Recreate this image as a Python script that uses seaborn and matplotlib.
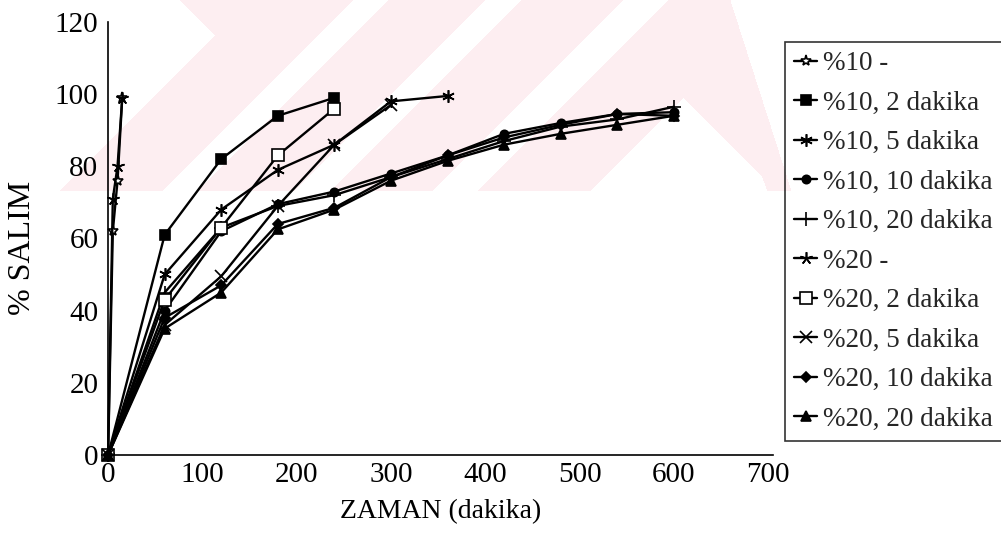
import matplotlib
matplotlib.use("Agg")
import matplotlib.pyplot as plt
import seaborn as sns
import pandas as pd
import numpy as np

# ---- data ----
series_names = ["%10 -", "%10, 2 dakika", "%10, 5 dakika", "%10, 10 dakika", "%10, 20 dakika",
                "%20 -", "%20, 2 dakika", "%20, 5 dakika", "%20, 10 dakika", "%20, 20 dakika"]

t_fast = [0, 5, 10, 15]
t_240 = [0, 60, 120, 180, 240]
t_300 = [0, 60, 120, 180, 240, 300]
t_360 = [0, 60, 120, 180, 240, 300, 360]
t_600 = [0, 60, 120, 180, 240, 300, 360, 420, 480, 540, 600]

v_10_0 = [0, 62, 76, 99]
v_10_2 = [0, 61, 82, 94, 99]
v_10_5 = [0, 50, 68, 79, 86, 98, 99.5]
v_10_10 = [0, 40, 62, 69.5, 73, 78, 83, 89, 92, 94.5, 95]
v_10_20 = [0, 45, 63, 69, 72, 77, 82, 87, 91, 93, 96.5]
v_20_0 = [0, 71, 80, 99]
v_20_2 = [0, 43, 63, 83, 96]
v_20_5 = [0, 36, 49.5, 69, 86, 97]
v_20_10 = [0, 38, 47, 64, 68.5, 77, 83, 88, 91.5, 94.5, 94]
v_20_20 = [0, 35, 45, 62.5, 68, 76, 81.5, 86, 89, 91.5, 94]

times = [t_fast, t_240, t_360, t_600, t_600, t_fast, t_240, t_300, t_600, t_600]
values = [v_10_0, v_10_2, v_10_5, v_10_10, v_10_20, v_20_0, v_20_2, v_20_5, v_20_10, v_20_20]

x_ticks = [0, 100, 200, 300, 400, 500, 600, 700]
y_ticks = [0, 20, 40, 60, 80, 100, 120]

# ---- style ----
sns.set_style("white")
plt.rcParams['font.family'] = ['Liberation Serif', 'DejaVu Serif']

markers = ["*", "s", (6, 2, 0), "o", "+", (5, 2, 0), "s", "x", "D", "^"]
faces = ["white", "black", "black", "black", "black", "black", "white", "black", "black", "black"]
msizes = [8, 7, 9, 6, 10, 9, 8, 8, 5, 7]

W, H = 1001, 537
fig = plt.figure(figsize=(W / 100, H / 100), dpi=100)

# faint scanned watermark (decorative background band)
Yg, Xg = np.mgrid[0:H, 0:W]
u = Xg + Yg
w = Xg - Yg
pink = (Yg <= 190) & (Xg <= 730 + 0.32 * Yg)
pink &= ~((u < 250) & (w < 180))
for a, b in [(353, 387), (485, 520), (623, 667)]:
    pink &= ~((u >= a) & (u <= b))
pink &= ~((u > 780) & (w < 586) & (Xg < 700 + 0.35 * Yg))
img = np.ones((H, W, 4))
img[..., 3] = 0.0
img[pink] = [253 / 255, 238 / 255, 241 / 255, 1.0]
fig.figimage(img, 0, 0, origin="upper", zorder=0)

ax = fig.add_axes([0.108, 0.153, 0.664, 0.806])
ax.set_facecolor("none")
ax.set_zorder(5)

for name, t, v, m, fc, ms in zip(series_names, times, values, markers, faces, msizes):
    df = pd.DataFrame({"ZAMAN": t, "SALIM": v})
    sns.lineplot(data=df, x="ZAMAN", y="SALIM", ax=ax, color="black", sort=False,
                 errorbar=None, marker=m, markersize=ms, markerfacecolor=fc,
                 markeredgecolor="black", markeredgewidth=1.2, linewidth=1.7,
                 label=name, clip_on=False)

ax.set_xlim(0, 705)
ax.set_ylim(0, 120)
ax.set_xticks(x_ticks)
ax.set_yticks(y_ticks)
ax.tick_params(axis="y", labelsize=21, length=0, pad=7, colors="black")
ax.tick_params(axis="x", labelsize=21, length=0, pad=5, colors="black")
for s in ["top", "right"]:
    ax.spines[s].set_visible(False)
for s in ["left", "bottom"]:
    ax.spines[s].set_color("black")
    ax.spines[s].set_linewidth(1.2)

ax.set_xlabel("ZAMAN (dakika)", fontsize=20, color="black", labelpad=8)
ax.set_ylabel("% SALIM", fontsize=23, color="black")
ax.yaxis.set_label_coords(-0.107, 0.478)

handles, labels = ax.get_legend_handles_labels()
leg = fig.legend(handles, labels, loc="upper left", bbox_to_anchor=(0.784, 0.922),
                 frameon=True, fancybox=False, edgecolor="black", facecolor="none",
                 fontsize=19.5, handlelength=0.85, handletextpad=0.2, labelspacing=0.535,
                 borderpad=0.35, borderaxespad=0)
leg.get_frame().set_linewidth(1.2)
leg.set_zorder(10)
if ax.get_legend():
    ax.get_legend().remove()

fig.savefig("out.png", dpi=100)
